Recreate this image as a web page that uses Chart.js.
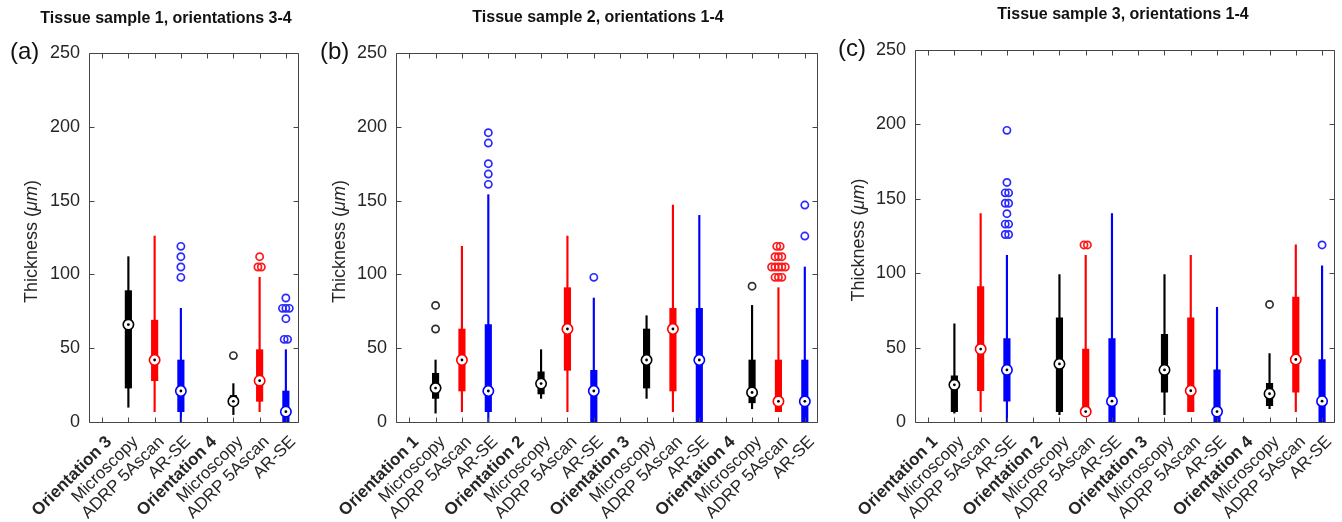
<!DOCTYPE html>
<html><head><meta charset="utf-8">
<script src="https://cdn.jsdelivr.net/npm/chart.js@4.4.1/dist/chart.umd.min.js"></script>
<style>
html,body{margin:0;padding:0;background:#fff;overflow:hidden;width:1342px;height:522px}
.p{position:absolute;top:0;height:522px}
canvas{display:block}
</style></head><body>
<div class="p" style="left:0;width:315px"><canvas id="cA" width="315" height="522"></canvas></div>
<div class="p" style="left:300px;width:530px"><canvas id="cB" width="530" height="522"></canvas></div>
<div class="p" style="left:820px;width:522px"><canvas id="cC" width="522" height="522"></canvas></div>
<script>
// ---------------- data ----------------
const catsA = ['Orientation 3','Microscopy','ADRP 5Ascan','AR-SE','Orientation 4','Microscopy','ADRP 5Ascan','AR-SE'];
const catsBC = ['Orientation 1','Microscopy','ADRP 5Ascan','AR-SE','Orientation 2','Microscopy','ADRP 5Ascan','AR-SE',
                'Orientation 3','Microscopy','ADRP 5Ascan','AR-SE','Orientation 4','Microscopy','ADRP 5Ascan','AR-SE'];
const yTicks = [0, 50, 100, 150, 200, 250];
const titles = ['Tissue sample 1, orientations 3-4', 'Tissue sample 2, orientations 1-4', 'Tissue sample 3, orientations 1-4'];
const panelLabels = ['(a)', '(b)', '(c)'];
const yTitleParts = ['Thickness (', '\u03bcm', ')'];

// Panel (a): whisker low, Q1, median, Q3, whisker high, outliers
const loA  = [null, 10,  7,  0, null,  5,  7,  0];
const q1A  = [null, 23, 28,  7, null, 12, 14,  0];
const medA = [null, 66, 42, 21, null, 14, 28,  7];
const q3A  = [null, 89, 69, 42, null, 18, 49, 21];
const hiA  = [null,112,126, 77, null, 26, 98, 49];
const outA = [[],[],[],[112,119,105,98],[],[45],[105,105,112],[84,77,77,77,70,56,56]];

// Panel (b)
const loB  = [null,  6,  7,  0, null, 16,  7,  0, null, 16,  7,  0, null,  9,  7,  0];
const q1B  = [null, 16, 21,  7, null, 19, 35,  0, null, 23, 21,  0, null, 13,  7,  0];
const medB = [null, 23, 42, 21, null, 26, 63, 21, null, 42, 63, 42, null, 20, 14, 14];
const q3B  = [null, 33, 63, 66, null, 34, 91, 35, null, 63, 77, 77, null, 42, 42, 42];
const hiB  = [null, 42,119,154, null, 49,126, 84, null, 72,147,140, null, 79, 91,105];
const outB = [[],[79,63],[],[196,189,175,168,161],[],[],[],[98],[],[],[],[],[],[92],
              [119,119,112,112,112,105,105,105,105,105,98,98,98],[147,126]];

// Panel (c)
const loC  = [null,  6,  7,  0, null,  5,  7,  0, null,  5,  7,  0, null,  9,  7,  0];
const q1C  = [null,  7, 21, 14, null,  7,  7,  0, null, 20,  7,  0, null, 11, 20,  0];
const medC = [null, 25, 49, 35, null, 39,  7, 14, null, 35, 21,  7, null, 19, 42, 14];
const q3C  = [null, 31, 91, 56, null, 70, 49, 56, null, 59, 70, 35, null, 26, 84, 42];
const hiC  = [null, 66,140,112, null, 99,112,140, null, 99,112, 77, null, 46,119,105];
const outC = [[],[],[],[196,161,154,154,147,147,140,133,133,126,126],[],[],[119,119],[],[],[],[],[],[],[79],[],[119]];

// ---------------- styles ----------------
const FAMILY = '"Liberation Sans", Arial, Helvetica, sans-serif';
const methodColor = {'Microscopy':'#000000','ADRP 5Ascan':'#ff0000','AR-SE':'#0000ff'};
const outlierColor = {'Microscopy':'#303030','ADRP 5Ascan':'#ff1a1a','AR-SE':'#2a2aff'};
const TXT = '#262626';

const framePlugin = {
  id: 'frame',
  afterDraw(chart, args, o) {
    const {ctx, chartArea: a, scales: {x, y}} = chart;
    ctx.save();
    ctx.strokeStyle = '#454545'; ctx.lineWidth = 1;
    const L = Math.round(a.left) + 0.5, R = Math.round(a.right) - 0.5;
    const T = Math.round(a.top) + 0.5, B = Math.round(a.bottom) + 0.5;
    ctx.beginPath();
    ctx.rect(L, T, R - L, B - T);
    x.ticks.forEach(t => {
      const px = Math.round(x.getPixelForValue(t.value)) + 0.5;
      ctx.moveTo(px, B); ctx.lineTo(px, B - 5);
      ctx.moveTo(px, T); ctx.lineTo(px, T + 5);
    });
    y.ticks.forEach(t => {
      const py = Math.round(y.getPixelForValue(t.value)) + 0.5;
      ctx.moveTo(L, py); ctx.lineTo(L + 5, py);
      ctx.moveTo(R, py); ctx.lineTo(R - 5, py);
    });
    ctx.stroke();
    ctx.fillStyle = '#111';
    ctx.textBaseline = 'middle';
    ctx.font = 'bold 16px ' + FAMILY; ctx.textAlign = 'center';
    ctx.fillText(o.title, o.tx, o.ty);
    ctx.font = '24px ' + FAMILY; ctx.textAlign = 'left';
    ctx.fillText(o.label, o.lx, o.ly);
    // y-axis title with italic unit
    const fN = '18px ' + FAMILY, fI = 'italic 18px ' + FAMILY;
    const fonts = [fN, fI, fN];
    const widths = yTitleParts.map((p, i) => { ctx.font = fonts[i]; return ctx.measureText(p).width; });
    const total = widths.reduce((s, w) => s + w, 0);
    ctx.translate(o.ytx, (a.top + a.bottom) / 2 + 4);
    ctx.rotate(-Math.PI / 2);
    ctx.fillStyle = TXT; ctx.textAlign = 'left';
    let cx = -total / 2;
    yTitleParts.forEach((p, i) => { ctx.font = fonts[i]; ctx.fillText(p, cx, 0); cx += widths[i]; });
    ctx.restore();
  }
};

function jitter(vals) {
  const res = [];
  const groups = {};
  vals.forEach(v => { groups[v] = (groups[v] || 0) + 1; });
  const seen = {};
  vals.forEach(v => {
    const k = groups[v]; const j = seen[v] = (seen[v] || 0);
    seen[v]++;
    res.push((j - (k - 1) / 2) * 0.13);
  });
  return res;
}

function makePanel(id, cats, lo, q1, med, q3, hi, out, lay) {
  const N = cats.length;
  const idx = cats.map((c, i) => i).filter(i => lo[i] !== null);
  const col = i => methodColor[cats[i]];
  const whisk = idx.map(i => ({x: i + 1, y: [lo[i], hi[i]]}));
  const box = idx.map(i => ({x: i + 1, y: [q1[i], q3[i]]}));
  const meds = idx.map(i => ({x: i + 1, y: med[i]}));
  const outPts = [], outCols = [];
  cats.forEach((c, i) => {
    const jit = jitter(out[i]);
    out[i].forEach((v, k) => { outPts.push({x: i + 1 + jit[k], y: v}); outCols.push(outlierColor[c]); });
  });
  const isOri = i => (cats[i] || '').startsWith('Orientation');
  return new Chart(document.getElementById(id), {
    type: 'bar',
    data: {datasets: [
      {type: 'line', data: outPts, showLine: false, pointStyle: 'circle', pointRadius: 3.6, pointBorderWidth: 1.7,
       pointBorderColor: outCols, pointBackgroundColor: 'rgba(0,0,0,0)', order: 1},
      {type: 'line', data: meds, showLine: false, pointRadius: 1.4, pointBorderWidth: 0,
       pointBackgroundColor: '#000', order: 2},
      {type: 'line', data: meds, showLine: false, pointRadius: 5.2, pointBorderWidth: 1.6,
       pointBorderColor: idx.map(col), pointBackgroundColor: '#fff', order: 3},
      {type: 'bar', data: box, backgroundColor: idx.map(col), barThickness: 6.5, grouped: false, order: 4},
      {type: 'bar', data: whisk, backgroundColor: idx.map(col), barThickness: 1.5, grouped: false, order: 5}
    ]},
    options: {
      responsive: false, animation: false, devicePixelRatio: 1,
      layout: {padding: {top: lay.top, right: lay.right, left: 0, bottom: 0}},
      plugins: {legend: {display: false}, tooltip: {enabled: false},
        frame: {title: lay.title, tx: lay.tx, ty: lay.ty, label: lay.label, lx: lay.lx, ly: lay.ly, ytx: lay.ytx}},
      scales: {
        x: {type: 'linear', min: 0.5, max: N + 0.5, offset: false,
          grid: {display: false, drawTicks: false}, border: {display: false},
          afterBuildTicks: s => { s.ticks = cats.map((c, i) => ({value: i + 1})); },
          ticks: {autoSkip: false, minRotation: 45, maxRotation: 45, padding: 10, labelOffset: 7, color: TXT,
            font: ctx => ({family: FAMILY, size: 17, weight: isOri(ctx.index) ? 'bold' : 'normal'}),
            callback: (v, i) => cats[i]},
          afterFit: s => { s.height = 100; s.paddingLeft = 0; s.paddingRight = 0; }
        },
        y: {min: 0, max: 250,
          grid: {display: false, drawTicks: false}, border: {display: false},
          afterBuildTicks: s => { s.ticks = yTicks.map(v => ({value: v})); },
          ticks: {padding: 9, color: TXT, font: {family: FAMILY, size: 18}},
          title: {display: false},
          afterFit: s => { s.width = lay.yw; s.paddingTop = 0; s.paddingBottom = 0; }
        }
      }
    },
    plugins: [framePlugin]
  });
}

makePanel('cA', catsA, loA, q1A, medA, q3A, hiA, outA,
  {top: 53, right: 16, yw: 89, ytx: 32, title: titles[0], tx: 166, ty: 19, label: panelLabels[0], lx: 10, ly: 52});
makePanel('cB', catsBC, loB, q1B, medB, q3B, hiB, outB,
  {top: 53, right: 12, yw: 96, ytx: 40, title: titles[1], tx: 298, ty: 18, label: panelLabels[1], lx: 20, ly: 52});
makePanel('cC', catsBC, loC, q1C, medC, q3C, hiC, outC,
  {top: 50, right: 4, yw: 95, ytx: 39, title: titles[2], tx: 303, ty: 15, label: panelLabels[2], lx: 18, ly: 49});
</script>
</body></html>
